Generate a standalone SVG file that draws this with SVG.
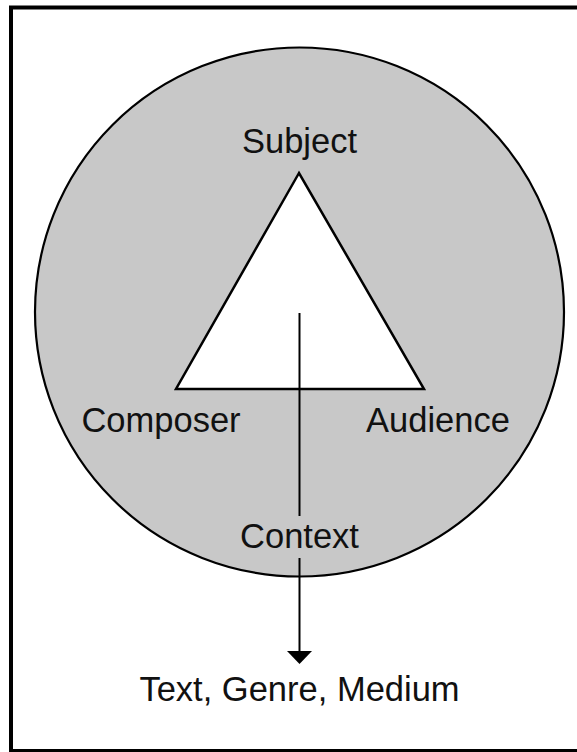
<svg xmlns="http://www.w3.org/2000/svg" width="577" height="752" viewBox="0 0 577 752">
<style>
text{font-family:"Liberation Sans",Arial,sans-serif;font-size:34.5px;fill:#111;text-anchor:middle}
.ln{stroke:#000;stroke-width:2;fill:none}
</style>
<rect x="0" y="0" width="577" height="752" fill="#fff"/>
<rect x="11" y="7.5" width="580" height="743.5" fill="#fff" stroke="#000" stroke-width="4"/>
<g id="context-circle">
<circle cx="299.5" cy="312" r="264.5" fill="#c8c8c8" stroke="#000" stroke-width="2.2"/>
</g>
<g id="triangle">
<polygon points="299,173 176,389 424,389" fill="#fff" stroke="#000" stroke-width="2.5" stroke-linejoin="miter"/>
</g>
<g id="connectors">
<line class="ln" x1="299.5" y1="313" x2="299.5" y2="516"/>
<line class="ln" x1="299.5" y1="558" x2="299.5" y2="652"/>
<polygon points="287,651 312,651 299.5,664" fill="#000"/>
</g>
<g id="subject"><text x="299.5" y="153">Subject</text></g>
<g id="composer"><text x="161" y="432">Composer</text></g>
<g id="audience"><text x="438" y="432">Audience</text></g>
<g id="context"><text x="299.5" y="548">Context</text></g>
<g id="output"><text x="299.5" y="701">Text, Genre, Medium</text></g>
</svg>
